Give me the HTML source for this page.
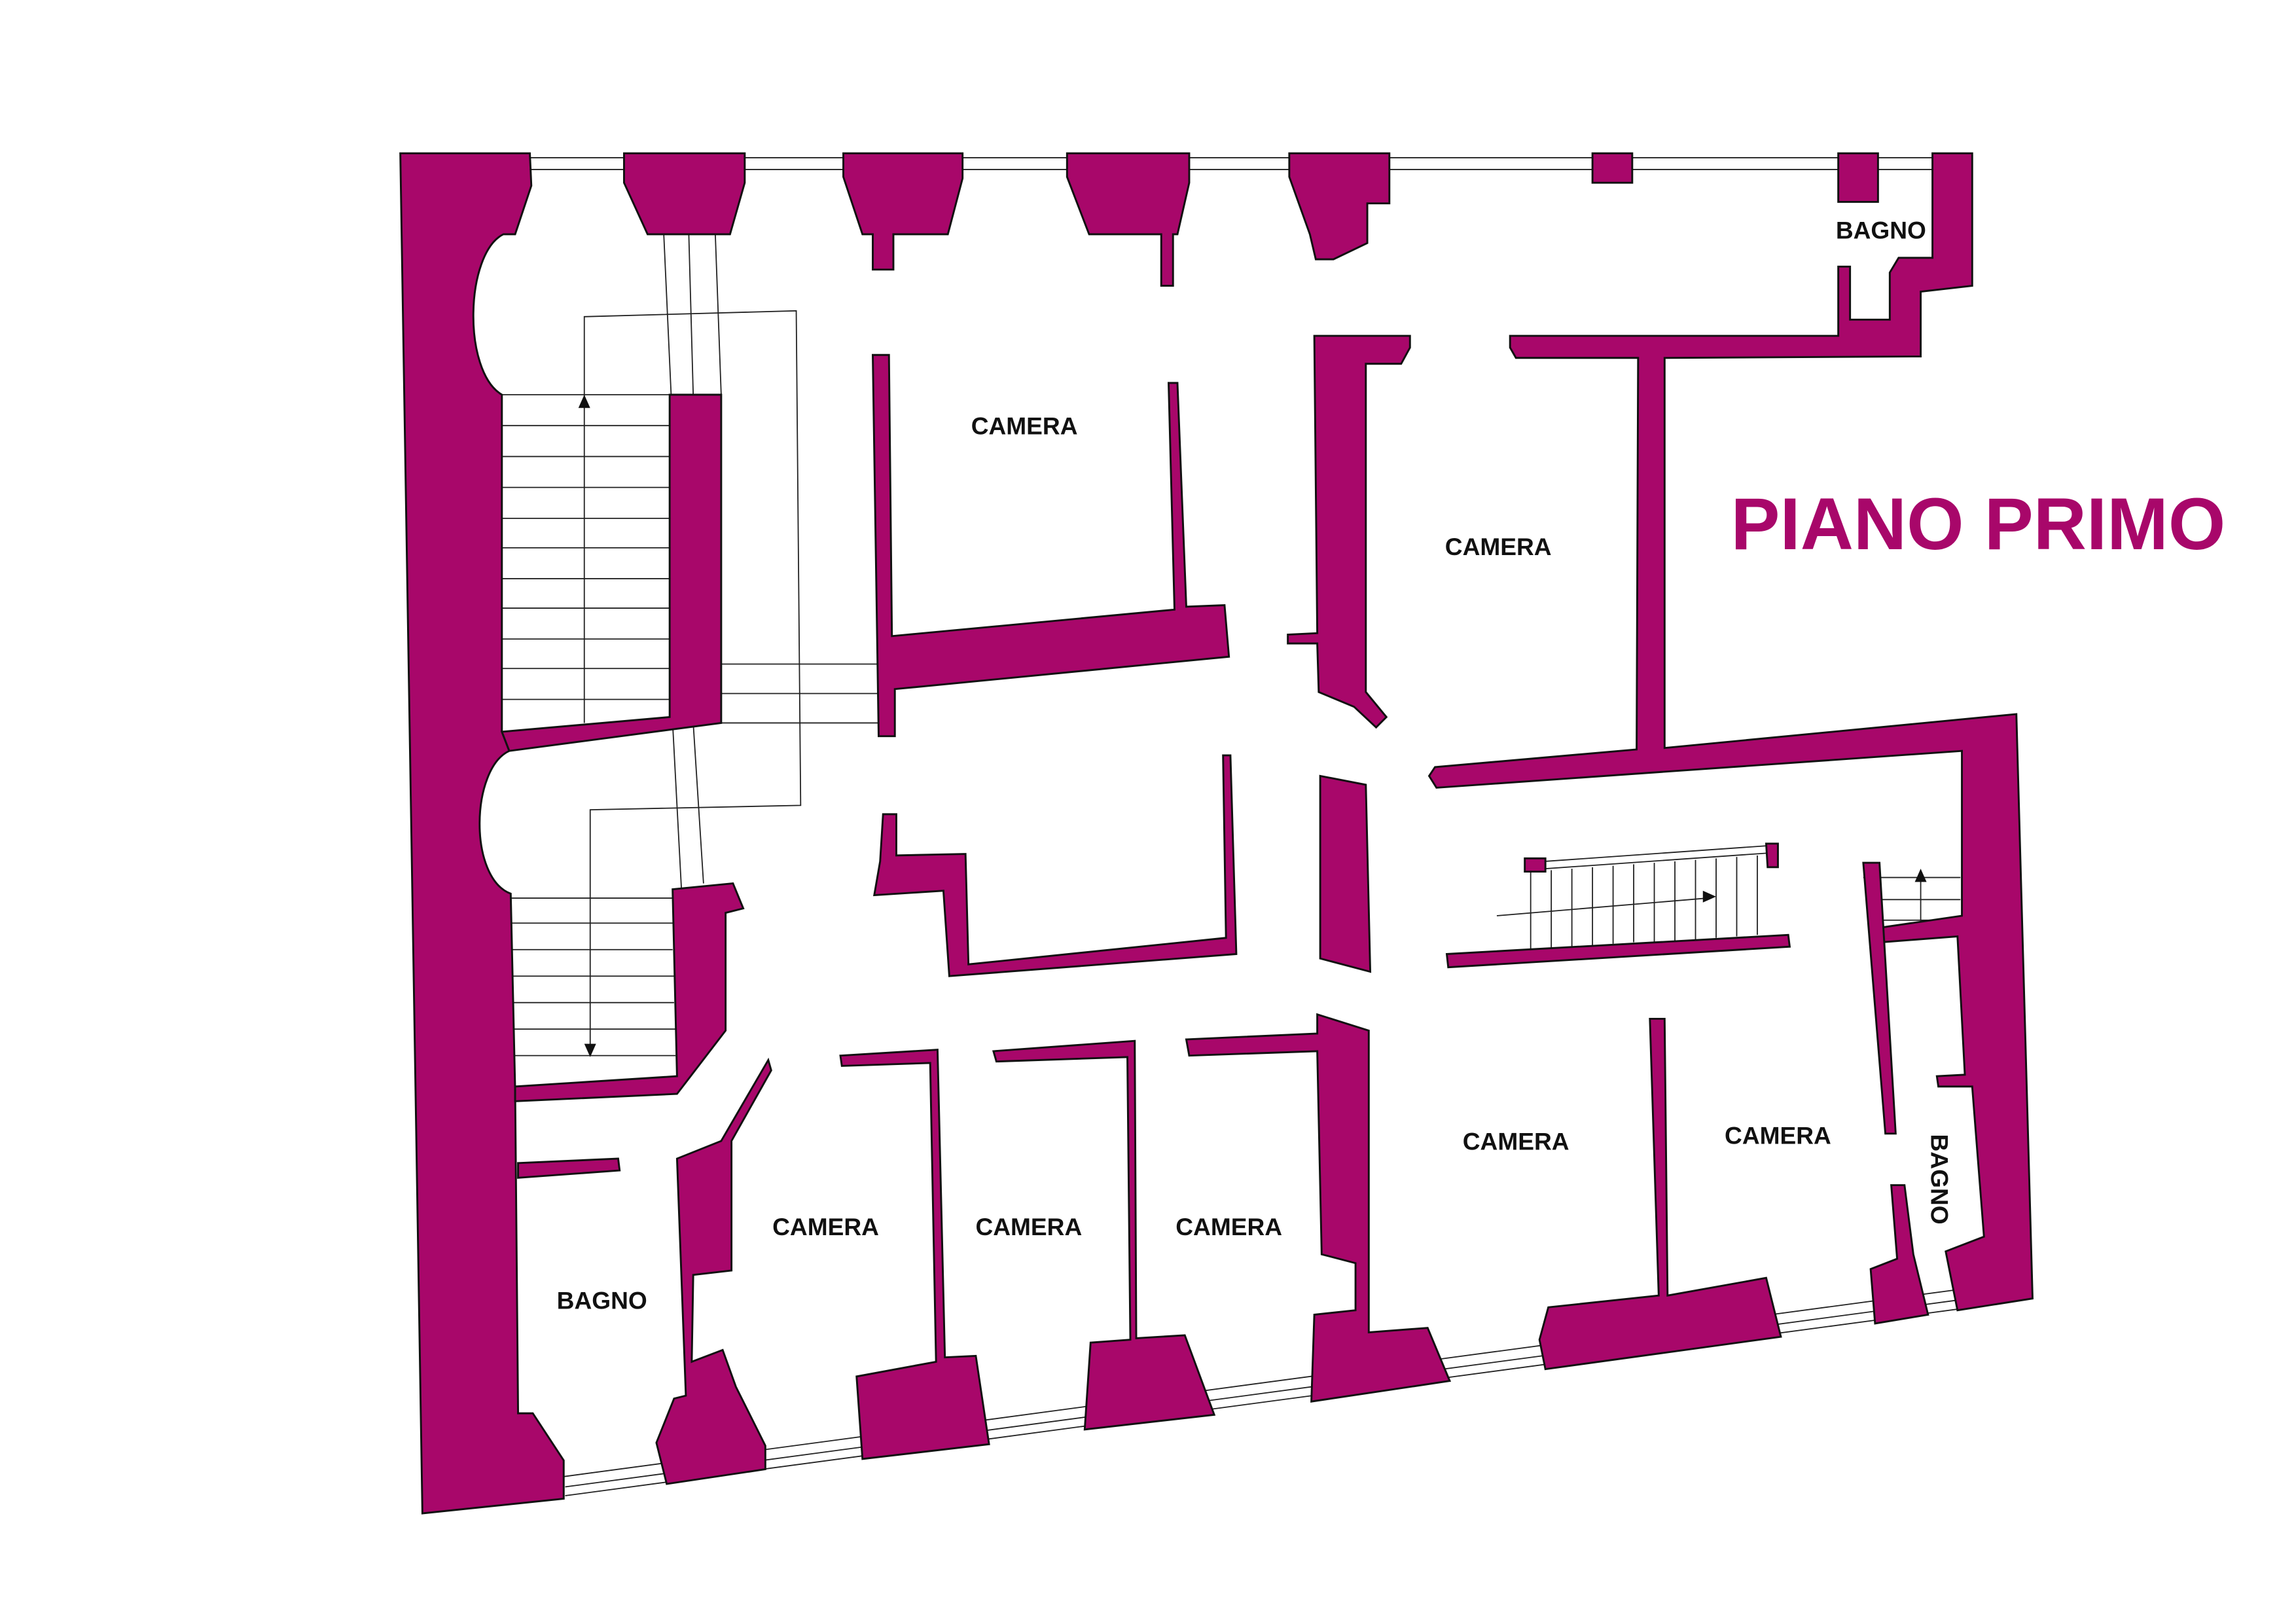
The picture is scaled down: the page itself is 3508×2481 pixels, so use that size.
<!DOCTYPE html>
<html><head><meta charset="utf-8"><style>html,body{margin:0;padding:0;background:#fff}svg{display:block}</style></head>
<body>
<svg width="3508" height="2481" viewBox="0 0 1560 1103" xmlns="http://www.w3.org/2000/svg">
<rect width="1560" height="1103" fill="#fff"/>
<g stroke="#222" stroke-width="0.8" fill="none">
<!-- top windows -->
<path d="M360,107 H1340 M360,115 H1340"/>
<!-- bottom windows -->
<path d="M383,1003 L1330,876 M384,1010 L1331,883 M384,1016 L1332,889"/>
<!-- upper stair steps -->
<path d="M341,268 H455 M341,289 H455 M341,310 H455 M341,331 H455 M341,352 H455 M341,372 H455 M341,393 H455 M341,413 H455 M341,434 H455 M341,454 H455 M341,475 H455"/>
<path d="M490,451 H597 M490,471 H597 M490,491 H597"/>
<path d="M451,159 L456,268 M468,159 L471,268 M486,159 L490,268"/>
<path d="M457,491 L463,604 M471,491 L478,600"/>
<path d="M397,491 V215 L541,211 L544,547 L401,550 V716"/>
<!-- lower stair steps -->
<path d="M347,610 H457 M347,627 H457 M347,645 H457 M348,663 H458 M348,681 H458 M349,699 H459 M349,717 H459"/>
<!-- small stair -->
<path d="M1036,586 L1207,574 M1036,591 L1207,579"/>
<path d="M1040,592 V645 M1054,591 V644 M1068,590 V643 M1082,589 V642 M1096,588 V641 M1110,587 V640 M1124,586 V640 M1138,585 V639 M1152,584 V638 M1166,583 V637 M1180,582 V636 M1194,581 V635"/>
<path d="M1017,622 L1160,610"/>
<path d="M1266,596 H1332 M1268,611 H1332 M1270,625 H1332 M1305,628 V597"/>
</g>
<g fill="#111">
<polygon points="397,268 393,277 401,277"/>
<polygon points="401,718 397,709 405,709"/>
<polygon points="1166,609 1157,605 1157,613"/>
<polygon points="1305,590 1301,599 1309,599"/>
</g>
<g fill="#a8076a" stroke="#111" stroke-width="1.3" stroke-linejoin="miter">
<path d="M272,104 L360,104 L361,126 L350,159 L342,159 C316,172 314,252 341,268 L341,497 L346,510 C320,522 318,596 347,607 L350,740 L352,960 L362,960 L383,992 L383,1018 L287,1028 Z"/>
<polygon points="455,268 490,268 490,491 346,510 341,497 455,487"/>
<polygon points="457,604 498,600 505,617 493,620 493,700 460,743 350,748 350,738 460,731"/>
<polygon points="352,790 420,787 421,795 352,800"/>
<polygon points="424,104 506,104 506,124 496,159 440,159 424,124"/>
<polygon points="573,104 654,104 654,121 644,159 607,159 607,183 593,183 593,159 586,159 573,120"/>
<polygon points="725,104 808,104 808,124 800,159 797,159 797,194 789,194 789,159 740,159 725,120"/>
<polygon points="876,104 944,104 944,138 929,138 929,165 906,176 894,176 890,159 876,120"/>
<polygon points="1082,104 1109,104 1109,124 1082,124"/>
<polygon points="1249,104 1276,104 1276,137 1249,137"/>
<polygon points="1026,228 1249,228 1249,181 1257,181 1257,217 1284,217 1284,185 1290,175 1313,175 1313,104 1340,104 1340,194 1305,198 1305,242 1131,243 1131,508 1370,485 1381,882 1330,890 1322,850 1348,840 1340,738 1317,738 1316,731 1335,730 1330,636 1278,640 1278,630 1333,622 1333,510 976,535 971,527 975,521 1112,509 1113,243 1030,243 1026,236"/>
<polygon points="593,241 604,241 606,432 798,414 794,260 800,260 806,412 832,411 835,446 608,468 608,500 597,500"/>
<polygon points="893,228 958,228 958,236 952,247 928,247 928,470 942,487 935,494 920,480 896,470 895,437 875,437 875,431 895,430"/>
<polygon points="600,553 609,553 609,581 656,580 658,655 833,637 831,513 836,513 840,648 645,663 641,605 594,608 598,585"/>
<polygon points="897,527 928,533 931,660 897,651"/>
<polygon points="1036,583 1050,583 1050,592 1036,592"/>
<polygon points="1200,573 1208,573 1208,589 1201,589"/>
<polygon points="983,648 1215,635 1216,643 984,657"/>
<polygon points="1266,586 1277,586 1288,770 1281,770"/>
<polygon points="1285,805 1294,805 1300,852 1310,893 1274,899 1271,862 1289,855"/>
<polygon points="1121,692 1131,692 1133,880 1200,868 1210,908 1050,930 1046,910 1052,888 1127,880"/>
<polygon points="806,706 895,702 895,689 930,700 930,905 970,902 985,938 891,952 893,893 921,890 921,858 898,852 895,714 808,717"/>
<polygon points="675,714 771,707 772,909 805,907 825,961 737,971 741,912 768,910 766,718 677,721"/>
<polygon points="571,717 637,713 642,922 663,921 672,981 586,991 582,935 636,925 632,722 572,724"/>
<polygon points="460,787 490,775 522,720 524,727 497,775 497,863 471,866 470,925 491,917 500,942 520,982 520,998 453,1008 446,980 458,950 466,948"/>
</g>
<g font-family="Liberation Sans, sans-serif" font-weight="bold" font-size="16.5" fill="#111" text-anchor="middle">
<text x="696" y="295">CAMERA</text>
<text x="1018" y="377">CAMERA</text>
<text x="1030" y="781">CAMERA</text>
<text x="1208" y="777">CAMERA</text>
<text x="561" y="839">CAMERA</text>
<text x="699" y="839">CAMERA</text>
<text x="835" y="839">CAMERA</text>
<text x="409" y="889">BAGNO</text>
<text x="1278" y="162">BAGNO</text>
<text x="0" y="0" transform="translate(1312,801) rotate(90)">BAGNO</text>
</g>
<text x="1176" y="373" font-family="Liberation Sans, sans-serif" font-weight="bold" font-size="50" fill="#a8076a">PIANO PRIMO</text>
</svg>
</body></html>
